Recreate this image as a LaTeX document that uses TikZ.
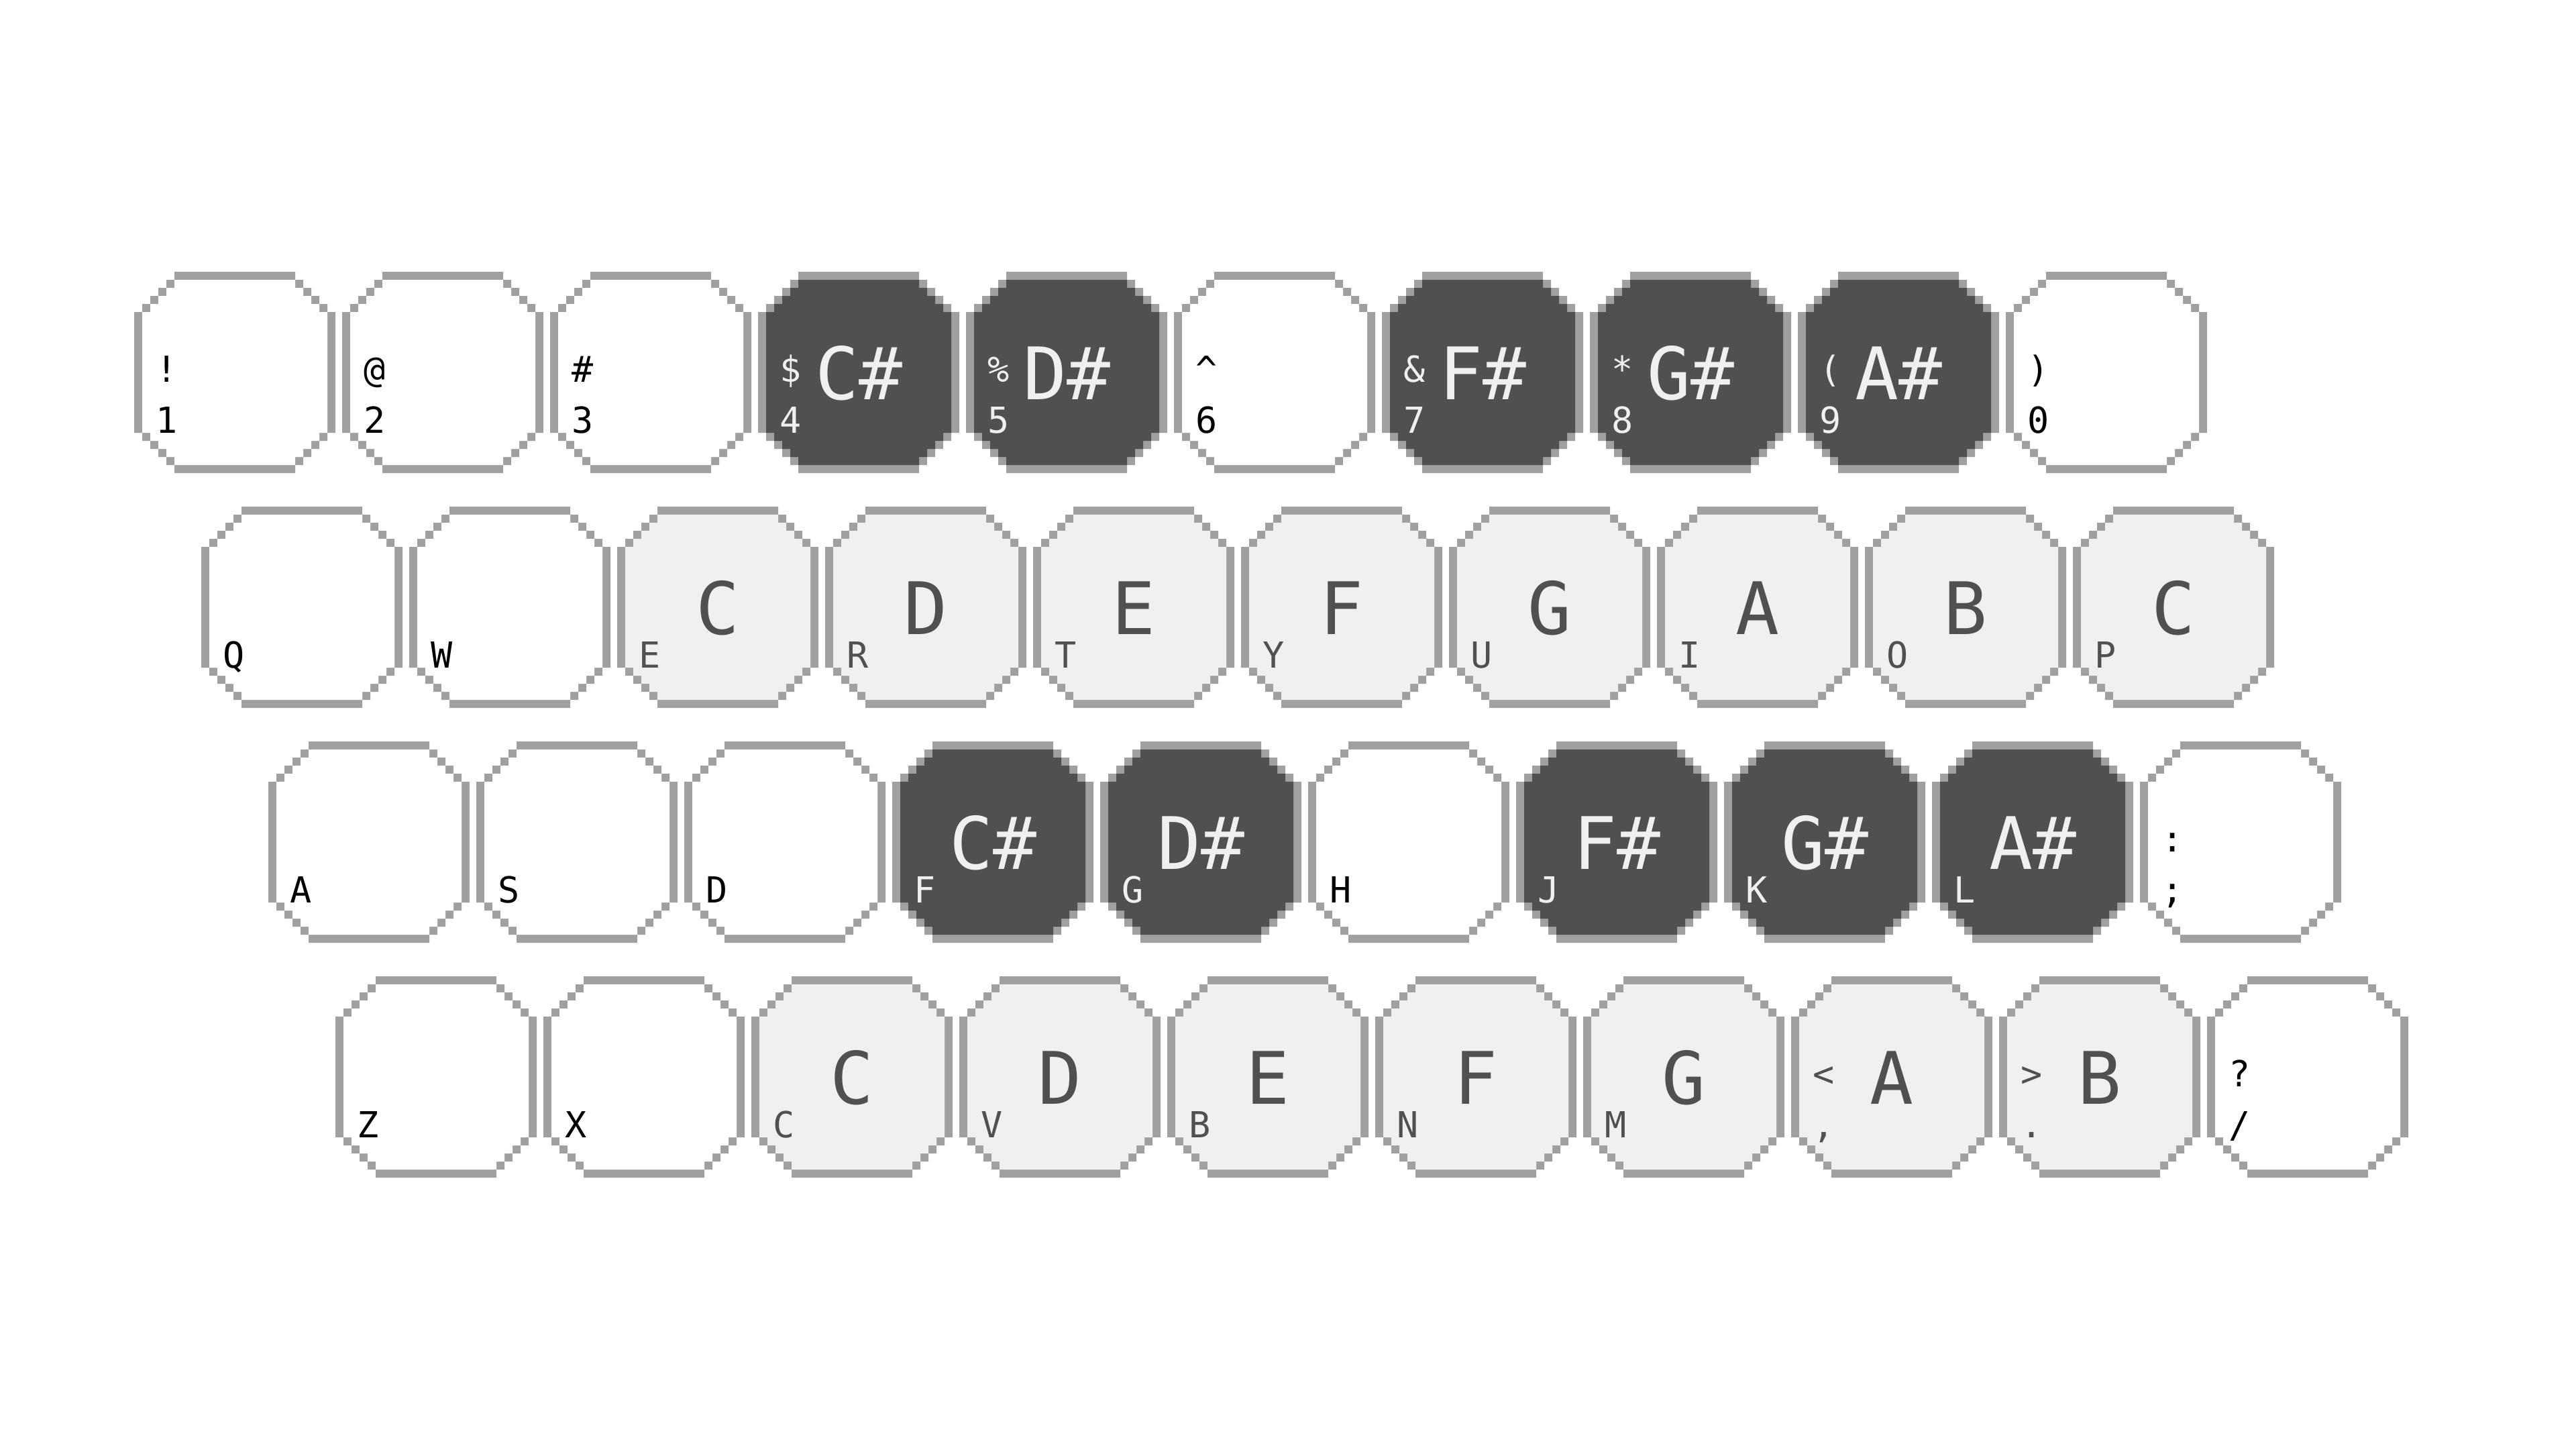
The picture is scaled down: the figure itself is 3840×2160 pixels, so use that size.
\documentclass[tikz,border=0pt]{standalone}
\usepackage{fontspec}
\newfontfamily\kbmono{DejaVu Sans Mono}
\definecolor{edgegray}{HTML}{A0A0A0}
\definecolor{keydark}{HTML}{505050}
\definecolor{keylight}{HTML}{F0F0F0}
\tikzset{
  whitekey/.style={fill=white},
  lightkey/.style={fill=keylight},
  darkkey/.style={fill=keydark},
  keybox/.style={rectangle, minimum width=3cm, minimum height=3cm, inner sep=0pt, draw=none},
  smalllabel/.style={font=\kbmono\fontsize{15.2}{15.2}\selectfont, anchor=base west, inner sep=0pt},
  notelabel/.style={font=\kbmono\fontsize{30.7}{30.7}\selectfont, anchor=base, inner sep=0pt},
}
% #1 name, #2 x, #3 y, #4 fill style, #5 text colour, #6 lower label, #7 upper label, #8 note
\newcommand\kbkey[8]{%
  \begin{scope}[shift={(#2,#3)}]
    \fill[edgegray] (60,0) -- (240,0) -- (240,12) -- (252,12) -- (252,24) -- (264,24) -- (264,36) -- (276,36) -- (276,48) -- (288,48) -- (288,60) -- (300,60) -- (300,240) -- (288,240) -- (288,252) -- (276,252) -- (276,264) -- (264,264) -- (264,276) -- (252,276) -- (252,288) -- (240,288) -- (240,300) -- (60,300) -- (60,288) -- (48,288) -- (48,276) -- (36,276) -- (36,264) -- (24,264) -- (24,252) -- (12,252) -- (12,240) -- (0,240) -- (0,60) -- (12,60) -- (12,48) -- (24,48) -- (24,36) -- (36,36) -- (36,24) -- (48,24) -- (48,12) -- (60,12) -- cycle;
    \fill[#4] (60,12) -- (240,12) -- (240,24) -- (252,24) -- (252,36) -- (264,36) -- (264,48) -- (276,48) -- (276,60) -- (288,60) -- (288,240) -- (276,240) -- (276,252) -- (264,252) -- (264,264) -- (252,264) -- (252,276) -- (240,276) -- (240,288) -- (60,288) -- (60,276) -- (48,276) -- (48,264) -- (36,264) -- (36,252) -- (24,252) -- (24,240) -- (12,240) -- (12,60) -- (24,60) -- (24,48) -- (36,48) -- (36,36) -- (48,36) -- (48,24) -- (60,24) -- cycle;
    \node[keybox] (#1) at (150,150) {};
    \node[smalllabel, text=#5] (#1-lo) at (32,240) {#6};
    \if\relax\detokenize{#7}\relax\else
      \node[smalllabel, text=#5] (#1-up) at (32,164) {#7};
    \fi
    \if\relax\detokenize{#8}\relax\else
      \node[notelabel, text=#5] (#1-note) at (150,190) {#8};
    \fi
  \end{scope}%
}
\begin{document}
\begin{tikzpicture}[x=0.01cm, y=-0.01cm]
\fill[white] (0,0) rectangle (3840,2160);
\useasboundingbox (0,0) rectangle (3840,2160);
% row 1
\kbkey{k1}{200}{405}{whitekey}{black}{1}{!}{}
\kbkey{k2}{510}{405}{whitekey}{black}{2}{@}{}
\kbkey{k3}{820}{405}{whitekey}{black}{3}{\#}{}
\kbkey{k4}{1130}{405}{darkkey}{keylight}{4}{\$}{C\#}
\kbkey{k5}{1440}{405}{darkkey}{keylight}{5}{\%}{D\#}
\kbkey{k6}{1750}{405}{whitekey}{black}{6}{\textasciicircum}{}
\kbkey{k7}{2060}{405}{darkkey}{keylight}{7}{\&}{F\#}
\kbkey{k8}{2370}{405}{darkkey}{keylight}{8}{*}{G\#}
\kbkey{k9}{2680}{405}{darkkey}{keylight}{9}{(}{A\#}
\kbkey{k0}{2990}{405}{whitekey}{black}{0}{)}{}
% row 2
\kbkey{kq}{300}{755}{whitekey}{black}{Q}{}{}
\kbkey{kw}{610}{755}{whitekey}{black}{W}{}{}
\kbkey{ke}{920}{755}{lightkey}{keydark}{E}{}{C}
\kbkey{kr}{1230}{755}{lightkey}{keydark}{R}{}{D}
\kbkey{kt}{1540}{755}{lightkey}{keydark}{T}{}{E}
\kbkey{ky}{1850}{755}{lightkey}{keydark}{Y}{}{F}
\kbkey{ku}{2160}{755}{lightkey}{keydark}{U}{}{G}
\kbkey{ki}{2470}{755}{lightkey}{keydark}{I}{}{A}
\kbkey{ko}{2780}{755}{lightkey}{keydark}{O}{}{B}
\kbkey{kp}{3090}{755}{lightkey}{keydark}{P}{}{C}
% row 3
\kbkey{ka}{400}{1105}{whitekey}{black}{A}{}{}
\kbkey{ks}{710}{1105}{whitekey}{black}{S}{}{}
\kbkey{kd}{1020}{1105}{whitekey}{black}{D}{}{}
\kbkey{kf}{1330}{1105}{darkkey}{keylight}{F}{}{C\#}
\kbkey{kg}{1640}{1105}{darkkey}{keylight}{G}{}{D\#}
\kbkey{kh}{1950}{1105}{whitekey}{black}{H}{}{}
\kbkey{kj}{2260}{1105}{darkkey}{keylight}{J}{}{F\#}
\kbkey{kk}{2570}{1105}{darkkey}{keylight}{K}{}{G\#}
\kbkey{kl}{2880}{1105}{darkkey}{keylight}{L}{}{A\#}
\kbkey{ksemi}{3190}{1105}{whitekey}{black}{;}{:}{}
% row 4
\kbkey{kz}{500}{1455}{whitekey}{black}{Z}{}{}
\kbkey{kx}{810}{1455}{whitekey}{black}{X}{}{}
\kbkey{kc}{1120}{1455}{lightkey}{keydark}{C}{}{C}
\kbkey{kv}{1430}{1455}{lightkey}{keydark}{V}{}{D}
\kbkey{kb}{1740}{1455}{lightkey}{keydark}{B}{}{E}
\kbkey{kn}{2050}{1455}{lightkey}{keydark}{N}{}{F}
\kbkey{km}{2360}{1455}{lightkey}{keydark}{M}{}{G}
\kbkey{kcomma}{2670}{1455}{lightkey}{keydark}{,}{<}{A}
\kbkey{kperiod}{2980}{1455}{lightkey}{keydark}{.}{>}{B}
\kbkey{kslash}{3290}{1455}{whitekey}{black}{/}{?}{}
\end{tikzpicture}
\end{document}
